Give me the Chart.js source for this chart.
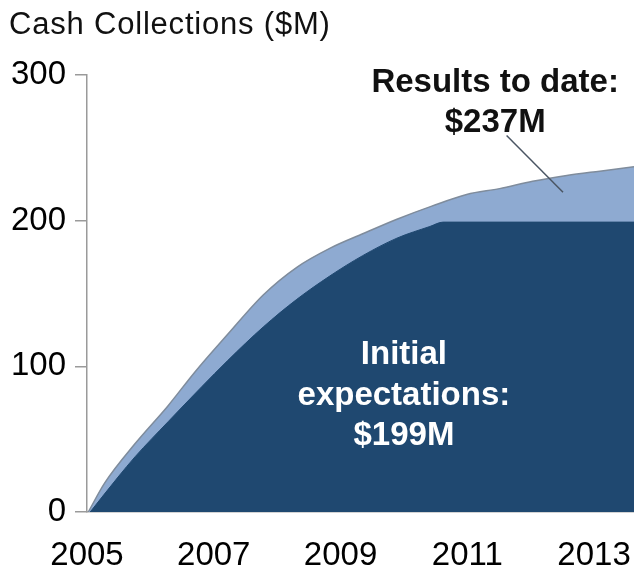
<!DOCTYPE html>
<html>
<head>
<meta charset="utf-8">
<script src="https://cdn.jsdelivr.net/npm/chart.js@4/dist/chart.umd.min.js"></script>
<style>
  html, body { margin: 0; padding: 0; background: #fff; }
  #wrap { width: 634px; height: 569px; position: relative; }
</style>
</head>
<body>
<div id="wrap"><canvas id="cashChart"></canvas></div>
<script>
// ==== data ====
const yTicks = [0, 100, 200, 300];
const xTicks = [2005, 2007, 2009, 2011, 2013];

// initial expectations ($M), x = year
const expectYears  = [2005.05, 2005.49, 2005.76, 2006.28, 2006.81, 2007.22, 2007.78, 2008.31, 2008.83, 2009.35, 2009.89, 2010.41, 2010.62, 2013.63];
const expectValues = [0, 24, 38, 62, 86, 104, 127, 146, 162, 176, 188, 196, 199, 199];

// results to date ($M)
const resultYears  = [2005.02, 2005.28, 2005.76, 2006.28, 2006.70, 2007.22, 2007.78, 2008.31, 2008.83, 2009.35, 2009.89, 2010.44, 2010.99, 2011.51, 2012.03, 2012.57, 2013.09, 2013.63];
const resultValues = [0, 20, 47, 73, 96, 122, 149, 168, 181, 191, 201, 210, 218, 222, 227, 231, 234, 237];

const FONT = "'Liberation Sans', Arial, sans-serif";
const DARK = "#1f4870";
const LIGHT = "#8eaad1";

function toPoints(xs, ys) {
  return xs.map((x, i) => ({ x: x, y: ys[i] }));
}

// ==== title + labels on top of the areas ====
const labelsPlugin = {
  id: "labels",
  afterDatasetsDraw(chart) {
    const { ctx, scales: { x, y } } = chart;
    ctx.save();

    // title
    ctx.fillStyle = "#111";
    ctx.font = "31px " + FONT;
    ctx.textAlign = "left";
    ctx.textBaseline = "alphabetic";
    if ("letterSpacing" in ctx) ctx.letterSpacing = "0.8px";
    ctx.fillText("Cash Collections ($M)", 9, 34);
    if ("letterSpacing" in ctx) ctx.letterSpacing = "0px";

    // leader line to the light area
    ctx.strokeStyle = "#4a5563";
    ctx.lineWidth = 1.5;
    ctx.beginPath();
    ctx.moveTo(x.getPixelForValue(2011.62), y.getPixelForValue(258.5));
    ctx.lineTo(x.getPixelForValue(2012.51), y.getPixelForValue(219.5));
    ctx.stroke();

    ctx.textAlign = "center";
    ctx.font = "bold 33px " + FONT;
    ctx.fillStyle = "#111";
    const rx = x.getPixelForValue(2011.44);
    ctx.fillText("Results to date:", rx, y.getPixelForValue(288.5));
    ctx.fillText("$237M", rx, y.getPixelForValue(261));

    ctx.fillStyle = "#fff";
    const ix = x.getPixelForValue(2010.0);
    ctx.fillText("Initial", ix, y.getPixelForValue(101.5));
    ctx.fillText("expectations:", ix, y.getPixelForValue(73.5));
    ctx.fillText("$199M", ix, y.getPixelForValue(46));
    ctx.restore();
  }
};

new Chart(document.getElementById("cashChart"), {
  type: "line",
  data: {
    datasets: [
      {
        label: "Initial expectations",
        data: toPoints(expectYears, expectValues),
        backgroundColor: DARK,
        borderColor: DARK,
        borderWidth: 1,
        pointRadius: 0,
        fill: "origin",
        cubicInterpolationMode: "monotone"
      },
      {
        label: "Results to date",
        data: toPoints(resultYears, resultValues),
        backgroundColor: LIGHT,
        borderColor: "#7f8c9c",
        borderWidth: 1.5,
        pointRadius: 0,
        fill: "origin",
        cubicInterpolationMode: "monotone"
      }
    ]
  },
  options: {
    responsive: true,
    maintainAspectRatio: false,
    animation: false,
    layout: { padding: { top: 75, right: 0, bottom: 0, left: 0 } },
    plugins: {
      legend: { display: false },
      tooltip: { enabled: false }
    },
    scales: {
      x: {
        type: "linear",
        min: 2005,
        max: 2013.63,
        afterBuildTicks: s => { s.ticks = xTicks.map(v => ({ value: v })); },
        afterFit: s => { s.height = 57; s.paddingLeft = 0; s.paddingRight = 0; },
        grid: { display: false },
        border: { display: true, color: "#a8a8a8", width: 1.5 },
        ticks: {
          color: "#000",
          font: { family: FONT, size: 33 },
          padding: 16,
          maxRotation: 0,
          autoSkip: false,
          callback: v => String(v)
        }
      },
      y: {
        min: 0,
        max: 300,
        afterBuildTicks: s => { s.ticks = yTicks.map(v => ({ value: v })); },
        afterFit: s => { s.width = 87; },
        grid: { drawOnChartArea: false, tickLength: 12, color: "#9a9a9a", lineWidth: 1.5 },
        border: { color: "#9a9a9a", width: 1.5 },
        ticks: {
          color: "#000",
          font: { family: FONT, size: 33 },
          padding: 9,
          callback: v => String(v)
        }
      }
    }
  },
  plugins: [labelsPlugin]
});
</script>
</body>
</html>
